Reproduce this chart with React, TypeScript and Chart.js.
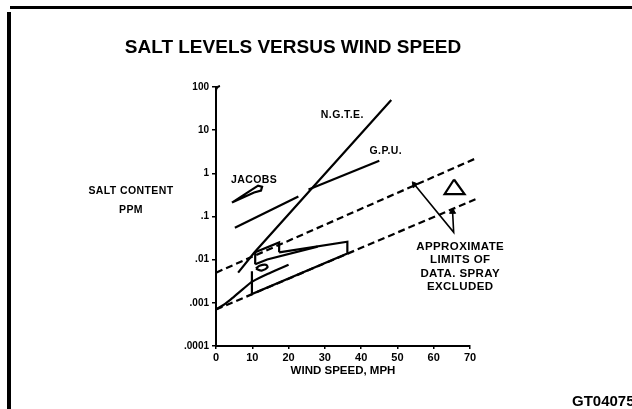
import React, { useEffect, useRef } from "react";
import { Chart, registerables } from "chart.js";

Chart.register(...registerables);

// ---- data (wind speed in MPH, salt content in PPM) ----
const xTickValues = [0, 10, 20, 30, 40, 50, 60, 70];
const yTickValues = [0.0001, 0.001, 0.01, 0.1, 1, 10, 100];
const yTickLabels = [".0001", ".001", ".01", ".1", "1", "10", "100"];

const ngte: [number, number][] = [[6.1, 0.005], [10.5, 0.0145], [25.4, 0.36], [48.3, 50]];
const gpuLow: [number, number][] = [[5.2, 0.055], [22.7, 0.29]];
const gpuHigh: [number, number][] = [[25.5, 0.42], [45, 1.95]];
const jacobs: [number, number][] = [[4.4, 0.21], [9.9, 0.42], [11.6, 0.52], [12.7, 0.49], [12.4, 0.4], [10.5, 0.36], [4.4, 0.21]];
const upperLimit: [number, number][] = [[0, 0.005], [71.5, 2.2]];
const lowerLimit: [number, number][] = [[0, 0.0007], [71.5, 0.25]];
const originCurve: [number, number][] = [[0, 0.0007], [2.5, 0.00095], [5, 0.0014], [7.5, 0.0021], [10, 0.0031], [15, 0.005], [20, 0.0076]];
const smallBox: [number, number][] = [[10.8, 0.0078], [10.8, 0.0148], [17.4, 0.025], [17.4, 0.0148]];
const longBox: [number, number][] = [[17.4, 0.0148], [36.2, 0.026], [36.2, 0.0138], [9.9, 0.0016], [9.9, 0.0054]];
const innerLine: [number, number][] = [[10.8, 0.0078], [14.1, 0.0101], [28, 0.02]];
const smallLoop: [number, number][] = [[11, 0.0062], [12, 0.0072], [13.8, 0.0076], [14.2, 0.0066], [12.6, 0.0056], [11, 0.0062]];
const triangleMark: [number, number][] = [[65.6, 0.72], [63, 0.33], [68.5, 0.33], [65.6, 0.72]];
const arrowLines: [number, number][] = [[54.7, 0.55], [65.5, 0.043], [65.2, 0.13]];
const arrowHeads: [number, number][] = [[54.7, 0.55], [65.2, 0.13]];
const arrowHeadRotation = [-39, 0];

const titleText = "SALT LEVELS VERSUS WIND SPEED";
const yTitleLines = ["SALT CONTENT", "PPM"];
const xTitleText = "WIND SPEED, MPH";
const noteLines = ["APPROXIMATE", "LIMITS OF", "DATA. SPRAY", "EXCLUDED"];
const seriesLabels: { text: string; x: number; y: number }[] = [
  { text: "N.G.T.E.", x: 34.8, y: 22 },
  { text: "G.P.U.", x: 46.8, y: 3.2 },
  { text: "JACOBS", x: 10.5, y: 0.71 },
];
const noteAnchor = { x: 67.3, y: 0.02 };
const figureId = "GT04075";

const pts = (a: [number, number][]) => a.map(([x, y]) => ({ x, y }));

const FONT = '"Liberation Sans", Arial, sans-serif';

const decorPlugin = {
  id: "decor",
  beforeDraw(chart: any) {
    const { ctx, width, height } = chart;
    ctx.save();
    ctx.fillStyle = "#fff";
    ctx.fillRect(0, 0, width, height);
    ctx.restore();
  },
  afterDraw(chart: any) {
    const { ctx } = chart;
    const xs = chart.scales.x;
    const ys = chart.scales.y;
    ctx.save();
    ctx.fillStyle = "#000";
    ctx.strokeStyle = "#000";
    // frame pieces
    ctx.fillRect(10, 6, 622, 3);
    ctx.fillRect(7, 12, 4, 397);
    // hook at the top of the y axis
    const ax = xs.getPixelForValue(0);
    const ay = ys.getPixelForValue(100);
    ctx.lineWidth = 2;
    ctx.beginPath();
    ctx.moveTo(ax, ay + 4);
    ctx.quadraticCurveTo(ax, ay, ax + 4, ay - 1);
    ctx.stroke();
    // title
    ctx.textAlign = "center";
    ctx.textBaseline = "middle";
    ctx.font = `bold 19px ${FONT}`;
    ctx.fillText(titleText, 293, 48);
    // y title
    (ctx as any).letterSpacing = "0.4px";
    ctx.font = `bold 10.5px ${FONT}`;
    ctx.fillText(yTitleLines[0], 131, 191);
    ctx.fillText(yTitleLines[1], 131, 210);
    // series labels
    ctx.font = `bold 10.5px ${FONT}`;
    seriesLabels.forEach((l) => {
      ctx.fillText(l.text, xs.getPixelForValue(l.x), ys.getPixelForValue(l.y));
    });
    // note
    ctx.font = `bold 11.5px ${FONT}`;
    const nx = xs.getPixelForValue(noteAnchor.x);
    const ny = ys.getPixelForValue(noteAnchor.y);
    noteLines.forEach((t, i) => ctx.fillText(t, nx, ny + i * 13.5));
    // figure id
    (ctx as any).letterSpacing = "0px";
    ctx.textAlign = "left";
    ctx.font = `bold 15px ${FONT}`;
    ctx.fillText(figureId, 572, 402);
    ctx.restore();
  },
};

export default function App() {
  const ref = useRef<HTMLCanvasElement | null>(null);
  useEffect(() => {
    if (!ref.current) return;
    const line = (data: any[], extra: any = {}) => ({
      data,
      showLine: true,
      borderColor: "#000",
      backgroundColor: "#000",
      borderWidth: 2.2,
      pointRadius: 0,
      fill: false,
      tension: 0,
      clip: false,
      ...extra,
    });
    const chart = new Chart(ref.current, {
      type: "scatter",
      data: {
        datasets: [
          line(pts(ngte)),
          line(pts(gpuLow)),
          line(pts(gpuHigh)),
          line(pts(jacobs)),
          line(pts(upperLimit), { borderDash: [7, 4] }),
          line(pts(lowerLimit), { borderDash: [7, 4] }),
          line(pts(originCurve), { tension: 0.3 }),
          line(pts(smallBox)),
          line(pts(longBox)),
          line(pts(innerLine)),
          line(pts(smallLoop), { tension: 0.3 }),
          line(pts(triangleMark)),
          line(pts(arrowLines), { borderWidth: 1.6 }),
          {
            data: pts(arrowHeads),
            showLine: false,
            pointStyle: "triangle",
            pointRadius: 3.5,
            rotation: arrowHeadRotation,
            backgroundColor: "#000",
            borderColor: "#000",
            borderWidth: 1,
            clip: false,
          },
        ] as any,
      },
      plugins: [decorPlugin],
      options: {
        animation: false,
        responsive: false,
        maintainAspectRatio: false,
        devicePixelRatio: 1,
        layout: { padding: { top: 87, right: 162, left: 0, bottom: 0 } },
        plugins: {
          legend: { display: false },
          tooltip: { enabled: false },
          title: { display: false },
        },
        scales: {
          x: {
            type: "linear",
            min: 0,
            max: 70,
            afterBuildTicks: (s: any) => {
              s.ticks = xTickValues.map((v) => ({ value: v }));
            },
            afterFit: (s: any) => {
              s.height = 63;
            },
            border: { display: true, color: "#000", width: 2 },
            grid: { display: true, drawOnChartArea: false, drawTicks: true, tickLength: 3, color: "#000", lineWidth: 1.5 },
            ticks: {
              color: "#000",
              padding: 2,
              maxRotation: 0,
              font: { family: FONT, size: 11, weight: "bold" },
            },
            title: {
              display: true,
              text: xTitleText,
              color: "#000",
              font: { family: FONT, size: 11.5, weight: "bold" },
              padding: { top: 0, bottom: 31 },
            },
          },
          y: {
            type: "logarithmic",
            min: 0.0001,
            max: 100,
            afterBuildTicks: (s: any) => {
              s.ticks = yTickValues.map((v) => ({ value: v }));
            },
            afterFit: (s: any) => {
              s.width = 216;
            },
            border: { display: true, color: "#000", width: 2 },
            grid: { display: true, drawOnChartArea: false, drawTicks: true, tickLength: 4, color: "#000", lineWidth: 1.5 },
            ticks: {
              color: "#000",
              padding: 3,
              font: { family: FONT, size: 10, weight: "bold" },
              callback: (v: any) => {
                const i = yTickValues.indexOf(Number(v));
                return i >= 0 ? yTickLabels[i] : "";
              },
            },
          },
        },
      } as any,
    });
    return () => chart.destroy();
  }, []);
  return (
    <div style={{ position: "absolute", left: 0, top: 0, width: 632, height: 409, background: "#fff" }}>
      <canvas ref={ref} width={632} height={409} style={{ display: "block", width: 632, height: 409 }} />
    </div>
  );
}
